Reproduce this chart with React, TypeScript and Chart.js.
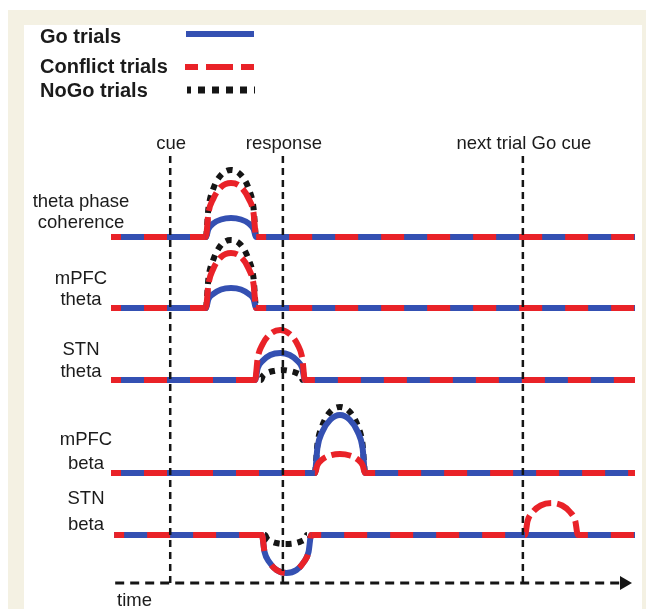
import { useEffect, useRef } from "react";
import { Chart, registerables } from "chart.js";

Chart.register(...registerables);

type P = [number, number];

// ---------- content ----------
const seriesNames = ["Go trials", "Conflict trials", "NoGo trials"];
const rowNames = [
  ["theta phase", "coherence"],
  ["mPFC", "theta"],
  ["STN", "theta"],
  ["mPFC", "beta"],
  ["STN", "beta"],
];
const eventTimes = [11.3, 32.8, 78.6];
const eventLabels = ["cue", "response", "next trial Go cue"];
const axisLabel = "time";

// ---------- data: [time, amplitude] (amplitude 0 = baseline) ----------
// theta phase coherence
const goCoherence: P[] = [[0, 0], [18.1, 0], [18.6, 8], [19.5, 13.5], [21.0, 17.5], [22.9, 19], [24.8, 17.5], [26.3, 13.5], [27.2, 8], [27.7, 0], [100, 0]];
const conflictCoherence: P[] = [[0, 0], [18.1, 0], [18.6, 24], [19.5, 38], [21.0, 50], [22.9, 54], [24.8, 50], [26.3, 38], [27.2, 24], [27.7, 0], [100, 0]];
const nogoCoherence: P[] = [[0, 0], [18.1, 0], [18.6, 29], [19.5, 48], [21.0, 62], [22.9, 67], [24.8, 62], [26.3, 48], [27.2, 29], [27.7, 0], [100, 0]];
// mPFC theta
const goMpfcTheta: P[] = [[0, 0], [18.1, 0], [18.6, 9], [19.5, 14], [21.0, 18.5], [22.9, 20], [24.8, 18.5], [26.3, 14], [27.2, 9], [27.7, 0], [100, 0]];
const conflictMpfcTheta: P[] = [[0, 0], [18.1, 0], [18.6, 24], [19.5, 39], [21.0, 51], [22.9, 55], [24.8, 51], [26.3, 39], [27.2, 24], [27.7, 0], [100, 0]];
const nogoMpfcTheta: P[] = [[0, 0], [18.1, 0], [18.6, 30], [19.5, 48], [21.0, 63], [22.9, 68], [24.8, 63], [26.3, 48], [27.2, 30], [27.7, 0], [100, 0]];
// STN theta
const goStnTheta: P[] = [[0, 0], [27.5, 0], [28.0, 12], [28.9, 19], [30.4, 25], [32.3, 27], [34.1, 25], [35.6, 19], [36.5, 12], [37.0, 0], [100, 0]];
const conflictStnTheta: P[] = [[0, 0], [27.5, 0], [28.0, 22], [28.9, 35.5], [30.4, 46], [32.3, 50], [34.1, 46], [35.6, 35.5], [36.5, 22], [37.0, 0], [100, 0]];
const nogoStnTheta: P[] = [[0, 0], [28.6, 0], [29.0, 4.4], [29.8, 7], [31.0, 9], [32.6, 10], [34.2, 9], [35.4, 7], [36.2, 4.4], [36.6, 0], [100, 0]];
// mPFC beta
const goMpfcBeta: P[] = [[0, 0], [38.9, 0], [39.4, 25.5], [40.3, 41], [41.8, 53], [43.7, 58], [45.6, 53], [47.1, 41], [48.0, 25.5], [48.5, 0], [100, 0]];
const conflictMpfcBeta: P[] = [[0, 0], [38.9, 0], [39.4, 8], [40.3, 13.5], [41.8, 17.5], [43.7, 19], [45.6, 17.5], [47.1, 13.5], [48.0, 8], [48.5, 0], [100, 0]];
const nogoMpfcBeta: P[] = [[0, 0], [38.9, 0], [39.4, 29], [40.3, 47], [41.8, 61], [43.7, 66], [45.6, 61], [47.1, 47], [48.0, 29], [48.5, 0], [100, 0]];
// STN beta
const goStnBeta: P[] = [[0.6, 0], [28.8, 0], [29.3, -17], [30.2, -27], [31.6, -35], [33.5, -38], [35.4, -35], [36.8, -27], [37.7, -17], [38.2, 0], [100, 0]];
const conflictStnBeta: P[] = [[0.6, 0], [28.8, 0], [29.3, -17], [30.2, -27], [31.6, -35], [33.5, -38], [35.4, -35], [36.8, -27], [37.7, -17], [38.2, 0], [79.0, 0], [79.5, 14], [80.5, 23], [82.0, 29.5], [84.1, 32], [86.1, 29.5], [87.6, 23], [88.6, 14], [89.1, 0], [100, 0]];
const nogoStnBeta: P[] = [[0.6, 0], [29.4, 0], [29.8, -4], [30.6, -6.4], [31.8, -8.3], [33.4, -9], [35.0, -8.3], [36.2, -6.4], [37.0, -4], [37.4, 0], [100, 0]];

const goSeries = [goCoherence, goMpfcTheta, goStnTheta, goMpfcBeta, goStnBeta];
const conflictSeries = [conflictCoherence, conflictMpfcTheta, conflictStnTheta, conflictMpfcBeta, conflictStnBeta];
const nogoSeries = [nogoCoherence, nogoMpfcTheta, nogoStnTheta, nogoMpfcBeta, nogoStnBeta];

// ---------- layout / style ----------
const W = 646;
const H = 609;
const rowBase = [346, 275, 203, 110, 48];
const eventTop = 430;
const axisStart = 0.8;
const axisEnd = 97.9;
const BLUE = "rgb(52,80,178)";
const RED = "rgb(233,34,40)";
const DARK = "#151515";
const TEXT = "#1b1b1b";
const FONT = '"Liberation Sans", Arial, Helvetica, sans-serif';
const LINE_W = 6;
const legendTextY = [43, 73, 97];
const legendLineY = [34, 67, 90];
const rowLabelX = [81, 81, 81, 86, 86];
const rowLabelY = [[207, 228], [284, 305], [355, 377], [445, 469], [504, 530]];

const textPlugin = {
  id: "schematicText",
  afterDatasetsDraw(chart: any) {
    const ctx: CanvasRenderingContext2D = chart.ctx;
    const xs = chart.scales.x;
    const ys = chart.scales.y;
    ctx.save();
    ctx.fillStyle = TEXT;
    ctx.textBaseline = "alphabetic";

    // legend
    ctx.font = `bold 20px ${FONT}`;
    ctx.textAlign = "left";
    seriesNames.forEach((n, i) => ctx.fillText(n, 40, legendTextY[i]));

    ctx.lineCap = "butt";
    ctx.strokeStyle = BLUE;
    ctx.lineWidth = 6;
    ctx.setLineDash([]);
    ctx.beginPath();
    ctx.moveTo(186, legendLineY[0]);
    ctx.lineTo(254, legendLineY[0]);
    ctx.stroke();

    ctx.strokeStyle = RED;
    ctx.lineWidth = 6;
    ctx.setLineDash([27, 8]);
    ctx.lineDashOffset = 14;
    ctx.beginPath();
    ctx.moveTo(185, legendLineY[1]);
    ctx.lineTo(254, legendLineY[1]);
    ctx.stroke();

    ctx.strokeStyle = DARK;
    ctx.lineWidth = 7;
    ctx.setLineDash([7, 7]);
    ctx.lineDashOffset = 3;
    ctx.beginPath();
    ctx.moveTo(187, legendLineY[2]);
    ctx.lineTo(255, legendLineY[2]);
    ctx.stroke();
    ctx.setLineDash([]);

    // row labels
    ctx.font = `18.5px ${FONT}`;
    ctx.textAlign = "center";
    rowNames.forEach((lines, r) => {
      lines.forEach((s, k) => ctx.fillText(s, rowLabelX[r], rowLabelY[r][k]));
    });

    // event labels
    const topPx = ys.getPixelForValue(eventTop);
    eventLabels.forEach((s, i) => {
      ctx.fillText(s, xs.getPixelForValue(eventTimes[i]) + 1, topPx - 4);
    });

    // axis label
    ctx.textAlign = "left";
    ctx.fillText(axisLabel, 117, 606);
    ctx.restore();
  },
};

export default function App() {
  const ref = useRef<HTMLCanvasElement | null>(null);

  useEffect(() => {
    if (!ref.current) return;
    const datasets: any[] = [];
    const common = {
      pointRadius: 0,
      fill: false,
      clip: false as any,
      cubicInterpolationMode: "monotone",
      borderCapStyle: "butt",
    };
    const toData = (pts: P[], row: number) =>
      pts.map(([t, v]) => ({ x: t, y: rowBase[row] + v, v }));
    const arcSign = (data: any[]) => (c: any) =>
      Math.sign(data[c.p0DataIndex].v + data[c.p1DataIndex].v);

    for (let r = 0; r < 5; r++) {
      const red = toData(conflictSeries[r], r);
      const rs = arcSign(red);
      datasets.push({
        ...common,
        label: `${seriesNames[1]} – ${rowNames[r].join(" ")}`,
        data: red,
        borderColor: RED,
        borderWidth: LINE_W,
        borderDash: [23, 23],
        borderDashOffset: 13,
        segment: {
          borderDash: (c: any) => {
            const s = rs(c);
            return s === 0 ? undefined : s > 0 ? [20, 6] : [16, 16];
          },
          borderDashOffset: (c: any) => (rs(c) !== 0 ? 0 : undefined),
        },
        order: 1,
      });
      const blue = toData(goSeries[r], r);
      datasets.push({
        ...common,
        label: `${seriesNames[0]} – ${rowNames[r].join(" ")}`,
        data: blue,
        borderColor: BLUE,
        borderWidth: LINE_W,
        order: 2,
      });
      const black = toData(nogoSeries[r], r);
      const bs = arcSign(black);
      datasets.push({
        ...common,
        label: `${seriesNames[2]} – ${rowNames[r].join(" ")}`,
        data: black,
        borderColor: DARK,
        borderWidth: LINE_W,
        borderDash: [6, 6],
        segment: {
          borderColor: (c: any) => (bs(c) === 0 ? "rgba(0,0,0,0)" : undefined),
        },
        order: 3,
      });
    }

    eventTimes.forEach((t, i) => {
      datasets.push({
        label: eventLabels[i],
        data: [
          { x: t, y: 0 },
          { x: t, y: eventTop },
        ],
        borderColor: DARK,
        borderWidth: 2.5,
        borderDash: [7, 5],
        pointRadius: 0,
        tension: 0,
        clip: false,
        order: 0,
      });
    });

    datasets.push({
      label: axisLabel,
      data: [
        { x: axisStart, y: 0 },
        { x: axisEnd, y: 0 },
      ],
      borderColor: DARK,
      borderWidth: 3,
      borderDash: [9, 6],
      pointRadius: [0, 8],
      pointStyle: "triangle",
      pointRotation: 90,
      pointBackgroundColor: DARK,
      pointBorderWidth: 0,
      tension: 0,
      clip: false,
      order: 0,
    });

    const chart = new Chart(ref.current, {
      type: "line",
      data: { datasets },
      options: {
        animation: false,
        responsive: false,
        events: [],
        layout: { autoPadding: false, padding: { left: 111, right: 11, top: 0, bottom: 0 } },
        scales: {
          x: { type: "linear", min: 0, max: 100, display: false },
          y: { type: "linear", min: -26, max: 583, display: false },
        },
        plugins: { legend: { display: false }, tooltip: { enabled: false } },
      } as any,
      plugins: [textPlugin],
    });
    return () => chart.destroy();
  }, []);

  return (
    <div style={{ position: "fixed", left: 0, top: 0, width: W, height: H, background: "#ffffff", overflow: "hidden" }}>
      <div style={{ position: "absolute", left: 8, top: 10, width: W - 8, height: H - 10, background: "#f4f1e3" }} />
      <div style={{ position: "absolute", left: 24, top: 25, width: 618, height: H - 25, background: "#ffffff" }} />
      <canvas ref={ref} width={W} height={H} style={{ position: "absolute", left: 0, top: 0, width: W, height: H }} />
    </div>
  );
}
